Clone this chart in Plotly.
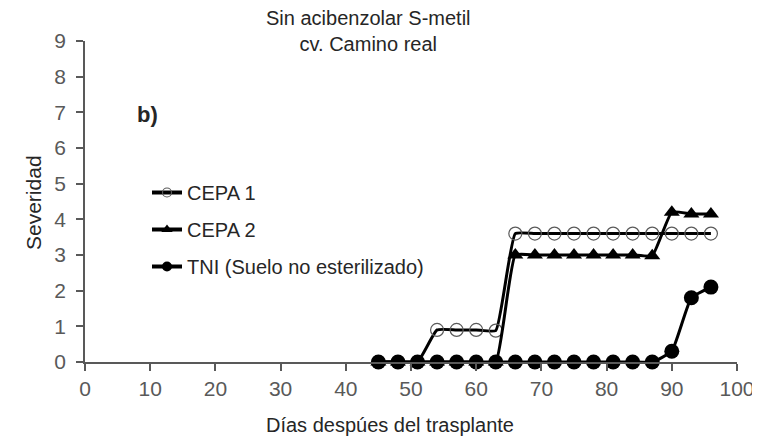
import plotly.graph_objects as go

dias = [45, 48, 51, 54, 57, 60, 63, 66, 69, 72, 75, 78, 81, 84, 87, 90, 93, 96]
cepa1 = [0, 0, 0, 0.9, 0.9, 0.9, 0.88, 3.6, 3.6, 3.6, 3.6, 3.6, 3.6, 3.6, 3.6, 3.6, 3.6, 3.6]
cepa2 = [0, 0, 0, 0, 0, 0, 0, 3.0, 3.0, 3.0, 3.0, 3.0, 3.0, 3.0, 2.98, 4.2, 4.15, 4.15]
tni = [0, 0, 0, 0, 0, 0, 0, 0, 0, 0, 0, 0, 0, 0, 0, 0.3, 1.8, 2.1]
series_names = ["CEPA 1", "CEPA 2", "TNI (Suelo no esterilizado)"]

x_ticks = [0, 10, 20, 30, 40, 50, 60, 70, 80, 90, 100]
y_ticks = [0, 1, 2, 3, 4, 5, 6, 7, 8, 9]

FONT = "Liberation Sans, Arial, sans-serif"
GRAY = "#595959"
TXT = "#262626"
OFF = 8  # browser body margin
W, H = 760 - OFF, 439 - OFF
L, T = 85 - OFF, 41 - OFF
PW, PH = 652, 321
R, B = W - L - PW, H - T - PH

def px_x(px):
    return (px - OFF - L) / PW

def px_y(py):
    return (T + PH - (py - OFF)) / PH

line = dict(color="black", width=3, shape="spline", smoothing=0.4)
m1 = dict(symbol="circle-open", size=13, color="#5a5a5a", line=dict(width=1.2))
m2 = dict(symbol="triangle-up", size=14, color="black")
m3 = dict(symbol="circle", size=15, color="black")

fig = go.Figure()
for ys, mk in [(cepa1, m1), (cepa2, m2), (tni, m3)]:
    fig.add_trace(go.Scatter(x=dias, y=ys, mode="lines+markers", line=line, marker=mk,
                             showlegend=False, cliponaxis=False))

# legend-only entries (smaller markers, like the reference legend)
lm = [dict(symbol="circle-open", size=9, color="#5a5a5a", line=dict(width=1.2)),
      dict(symbol="triangle-up", size=10, color="black"),
      dict(symbol="circle", size=10, color="black")]
for i, (nm, mk) in enumerate(zip(series_names, lm)):
    fig.add_trace(go.Scatter(x=[None], y=[None], name=nm, mode="lines+markers",
                             line=dict(color="black", width=4), marker=mk,
                             legendgroup=f"g{i}", showlegend=True))

fig.add_annotation(x=px_x(368), y=px_y(31), xref="paper", yref="paper",
                   xanchor="center", yanchor="middle",
                   text="Sin acibenzolar S-metil<br>cv. Camino real", showarrow=False,
                   font=dict(family=FONT, size=20, color=TXT))
fig.add_annotation(x=px_x(135), y=px_y(114), xref="paper", yref="paper", xanchor="left",
                   yanchor="middle", text="<b>b)</b>", showarrow=False,
                   font=dict(family=FONT, size=22, color=TXT))
fig.add_annotation(x=px_x(390), y=px_y(425), xref="paper", yref="paper", xanchor="center",
                   yanchor="middle", text="Días despúes del trasplante", showarrow=False,
                   font=dict(family=FONT, size=20, color=TXT))
fig.add_annotation(x=px_x(33), y=px_y(203), xref="paper", yref="paper", xanchor="center",
                   yanchor="middle", text="Severidad", showarrow=False, textangle=-90,
                   font=dict(family=FONT, size=21, color=TXT))

fig.update_layout(
    width=W, height=H,
    margin=dict(l=L, r=R, t=T, b=B, autoexpand=False),
    paper_bgcolor="white", plot_bgcolor="white",
    font=dict(family=FONT, color=GRAY),
    showlegend=True,
    legend=dict(x=px_x(147), y=px_y(173), xanchor="left", yanchor="top",
                bgcolor="rgba(0,0,0,0)", font=dict(family=FONT, size=20, color=TXT),
                itemwidth=30, tracegroupgap=8),
    xaxis=dict(range=[0, 100], tickvals=x_ticks, ticks="outside", ticklen=7, tickwidth=1.5,
               tickcolor=GRAY, showline=True, linecolor=GRAY, linewidth=1.5, showgrid=False,
               zeroline=False, tickfont=dict(family=FONT, size=21, color=GRAY)),
    yaxis=dict(range=[0, 9], tickvals=y_ticks, ticks="outside", ticklen=7, tickwidth=1.5,
               tickcolor=GRAY, showline=True, linecolor=GRAY, linewidth=1.5, showgrid=False,
               zeroline=False, ticklabelstandoff=6,
               tickfont=dict(family=FONT, size=21, color=GRAY)),
)

fig.write_html("out.html")
